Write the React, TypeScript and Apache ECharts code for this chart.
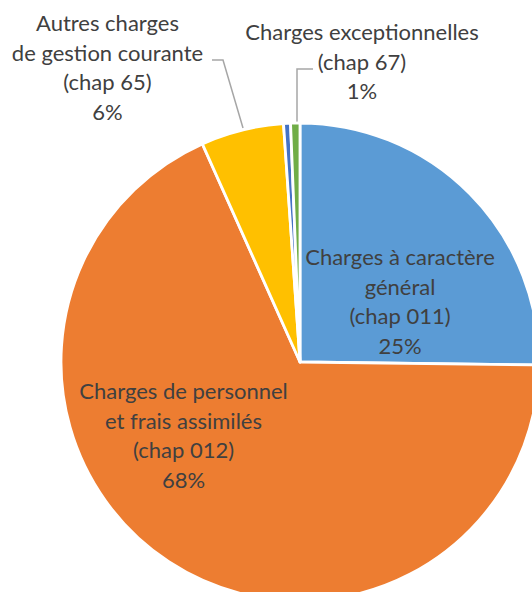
import React, { useEffect, useRef } from "react";
import * as echarts from "echarts";

const categories = [
  "Charges à caractère\ngénéral\n(chap 011)",
  "Charges de personnel\net frais assimilés\n(chap 012)",
  "Autres charges\nde gestion courante\n(chap 65)",
  "Charges financières\n(chap 66)",
  "Charges exceptionnelles\n(chap 67)",
];
const values = [25.2, 68.1, 5.6, 0.47, 0.63];
const showLabel = [true, true, true, false, true];

const colors = ["#5b9bd5", "#ed7d31", "#ffc000", "#4472c4", "#70ad47"];
const labelCenters: (number[] | null)[] = [[400, 301], [183.5, 435], [107.5, 67], null, [362, 61]];
const leaderPoints: (number[][] | null)[] = [
  null,
  null,
  [[243, 128], [223, 60], [212, 60]],
  null,
  [[297, 122], [297, 69], [313, 69]],
];

export default function App() {
  const ref = useRef<HTMLDivElement>(null);
  useEffect(() => {
    const chart = echarts.init(ref.current!, null, { renderer: "svg" });
    chart.setOption({
      animation: false,
      backgroundColor: "#ffffff",
      series: [
        {
          type: "pie",
          center: [300, 362],
          radius: 239,
          startAngle: 90,
          clockwise: true,
          avoidLabelOverlap: false,
          percentPrecision: 0,
          minShowLabelAngle: 0,
          itemStyle: { borderColor: "#ffffff", borderWidth: 2.8 },
          label: {
            formatter: "{b}\n{d}%",
            fontFamily: "Lato, 'Liberation Sans', sans-serif",
            fontSize: 22,
            lineHeight: 29.5,
            color: "#404040",
            align: "center",
          },
          labelLine: {
            show: true,
            lineStyle: { color: "#a6a6a6", width: 1.5 },
          },
          labelLayout: (p: any) => {
            const i = p.dataIndex;
            const c = labelCenters[i];
            if (!c) return {};
            const res: any = { x: c[0], y: c[1], align: "center", verticalAlign: "middle" };
            if (leaderPoints[i]) res.labelLinePoints = leaderPoints[i];
            return res;
          },
          data: categories.map((name, i) => ({
            name,
            value: values[i],
            itemStyle: { color: colors[i] },
            label: {
              show: showLabel[i],
              position: leaderPoints[i] ? "outside" : "inside",
            },
            labelLine: { show: !!leaderPoints[i] },
          })),
        },
      ],
    });
    return () => chart.dispose();
  }, []);
  return (
    <div
      ref={ref}
      style={{ position: "absolute", left: 0, top: 0, width: 532, height: 592 }}
    />
  );
}
